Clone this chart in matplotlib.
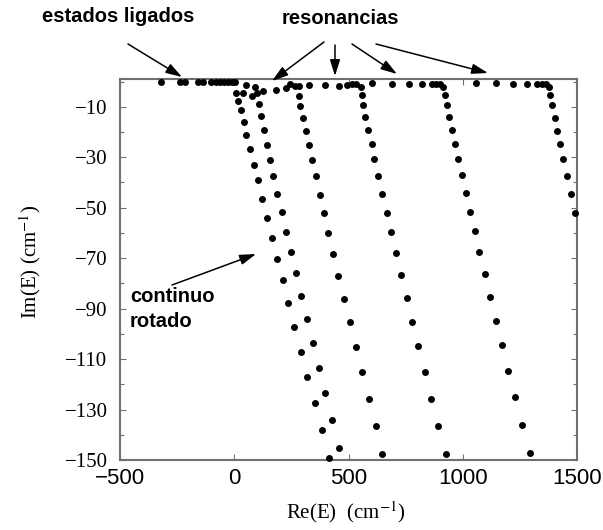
import matplotlib
matplotlib.use("Agg")
import matplotlib.pyplot as plt
from matplotlib.ticker import FixedLocator, FixedFormatter

# ---- data (Re(E), Im(E) in cm^-1) ----
bound_re = [-320, -237, -215, -159, -135, -102, -80, -62, -45, -27, -12, 3]
bound_im = [0, 0, 0, 0, 0, 0, 0, 0, 0, 0, 0, 0]

top_re = [39.6, 53.6, 75.5, 90.8, 98.3, 126.7, 183.6, 224.3, 244.0, 267.2,
          325.8, 398.9, 458.4, 494.8, 516.6, 535.0,
          603.7, 690.4, 762.6, 822.5, 864.6, 885.1, 901.8,
          1058.0, 1147.7, 1219.1, 1280.3, 1322.8, 1345.5, 1363.0]
top_im = [-4.7, -1.5, -5.9, -2.0, -4.7, -3.6, -3.4, -2.7, -0.8, -1.6,
          -1.3, -1.5, -1.8, -1.4, -1.0, -0.8,
          -0.5, -0.8, -0.8, -0.8, -0.8, -0.8, -0.9,
          -0.5, -0.5, -0.8, -0.8, -0.8, -0.8, -0.9]

c1_re = [9.0, 16.4, 28.7, 41.4, 52.7, 68.9, 85.1, 101.8, 122.8, 142.0, 163.9,
         185.8, 212.0, 236.5, 262.8, 290.8, 319.7, 352.1, 384.0, 416.0]
c1_im = [-4.4, -7.8, -11.3, -15.9, -21.2, -26.7, -33.1, -39.2, -46.7, -54.2,
         -61.9, -70.2, -78.8, -87.9, -97.2, -107.1, -117.1, -127.5, -138.2, -149.3]

c2_re = [107.0, 118.4, 128.9, 142.0, 156.5, 170.9, 188.4, 207.7, 226.5, 247.1,
         270.2, 293.4, 318.4, 344.6, 370.9, 398.5, 427.8, 459.7]
c2_im = [-9.1, -13.5, -19.2, -25.2, -31.1, -37.4, -44.5, -51.8, -59.5, -67.4,
         -76.0, -84.9, -94.0, -103.5, -113.4, -123.6, -134.2, -145.1]

c3_re = [281.2, 283.4, 289.1, 302.2, 314.0, 327.1, 341.6, 356.9, 375.3, 392.8,
         411.6, 433.5, 455.4, 480.3, 506.6, 531.5, 559.1, 588.4, 619.0, 647.9]
c3_im = [-1.6, -5.7, -9.7, -14.6, -19.6, -25.2, -31.1, -37.4, -44.9, -52.2,
         -60.2, -68.5, -77.1, -86.1, -95.4, -105.2, -115.3, -125.8, -136.7, -147.8]

c4_re = [553.4, 557.8, 562.2, 572.2, 586.7, 601.5, 612.9, 630.4, 647.9, 667.2,
         686.0, 707.9, 729.8, 754.7, 779.2, 805.5, 833.5, 862.4, 893.0, 925.4]
c4_im = [-2.1, -5.3, -9.3, -13.9, -19.2, -24.9, -30.8, -37.4, -44.6, -52.0,
         -59.8, -68.0, -76.6, -85.7, -95.2, -104.9, -115.1, -125.7, -136.5, -147.6]

c5_re = [913.6, 922.3, 929.8, 939.8, 953.0, 966.1, 977.9, 995.4, 1014.2, 1031.7,
         1052.3, 1072.4, 1097.4, 1120.6, 1145.5, 1173.1, 1199.4, 1230.0, 1260.6, 1293.0]
c5_im = [-2.0, -5.3, -9.3, -14.2, -19.2, -24.9, -30.8, -37.0, -44.2, -51.6,
         -59.4, -67.7, -76.3, -85.3, -94.8, -104.4, -114.6, -125.2, -136.0, -147.2]

c6_re = [1375.3, 1383.2, 1390.6, 1403.7, 1412.5, 1425.6, 1440.1, 1454.9, 1472.4, 1489.9]
c6_im = [-2.2, -5.5, -9.4, -14.3, -19.5, -24.9, -30.8, -37.4, -44.6, -52.0]

x_ticks = [-500, 0, 500, 1000, 1500]
x_ticklabels = ["\u2212500", "0", "500", "1000", "1500"]
y_ticks = [-150, -130, -110, -90, -70, -50, -30, -10]
y_ticklabels = ["\u2212150", "\u2212130", "\u2212110", "\u221290", "\u221270", "\u221250", "\u221230", "\u221210"]
y_minor = [-140, -120, -100, -80, -60, -40, -20, 0]

# ---- figure ----
W, H = 603, 530
fig = plt.figure(figsize=(W / 100, H / 100), dpi=100)
ax = fig.add_axes([120 / W, 1 - 460 / H, 457 / W, 381 / H])

series = [(bound_re, bound_im), (top_re, top_im), (c1_re, c1_im), (c2_re, c2_im),
          (c3_re, c3_im), (c4_re, c4_im), (c5_re, c5_im), (c6_re, c6_im)]
for xs, ys in series:
    ax.plot(xs, ys, 'o', color='black', markersize=5.0, markeredgewidth=0,
            linestyle='none', clip_on=False, zorder=3)

ax.set_xlim(-500, 1500)
ax.set_ylim(-150, 1)

spine_col = '#707070'
for s in ax.spines.values():
    s.set_color(spine_col)
    s.set_linewidth(1.5)

ax.xaxis.set_major_locator(FixedLocator(x_ticks))
ax.xaxis.set_major_formatter(FixedFormatter(x_ticklabels))
ax.yaxis.set_major_locator(FixedLocator(y_ticks))
ax.yaxis.set_major_formatter(FixedFormatter(y_ticklabels))
ax.yaxis.set_minor_locator(FixedLocator(y_minor))

ax.tick_params(which='both', direction='in', top=True, right=True,
               color=spine_col, width=0.8)
ax.tick_params(which='major', length=4)
ax.tick_params(which='minor', length=3)
ax.tick_params(axis='x', pad=6)
ax.tick_params(axis='y', pad=9)

for lab in ax.get_xticklabels():
    lab.set_fontfamily('Liberation Sans')
    lab.set_fontsize(16)
for lab in ax.get_yticklabels():
    lab.set_fontfamily('Liberation Serif')
    lab.set_fontsize(15)

fig.text(346 / W, 1 - 512 / H, r"Re(E)  (cm$^{-1}$)", ha='center', va='center',
         fontsize=15, family='Liberation Serif', math_fontfamily='stix')
fig.text(30 / W, 1 - 262 / H, r"Im(E) (cm$^{-1}$)", ha='center', va='center',
         rotation=90, fontsize=15, family='Liberation Serif', math_fontfamily='stix')

ann_font = dict(family=['Liberation Sans', 'DejaVu Sans'],
                fontweight='bold', fontsize=14.5)

def fp(x, y):
    return (x / W, 1 - y / H)

fig.text(*fp(42, 17), "estados ligados", ha='left', va='center', **ann_font)
fig.text(*fp(340, 18), "resonancias", ha='center', va='center', **ann_font)
fig.text(*fp(130, 309), "continuo\nrotado", ha='left', va='center',
         linespacing=1.45, **ann_font)

arrow = dict(arrowstyle='-|>,head_length=0.7,head_width=0.22', color='black',
             lw=1.1, mutation_scale=14, shrinkA=0, shrinkB=0)
arrows = [((128, 44), (182, 77)),
          ((324, 42), (272, 81)),
          ((335, 45), (335, 76)),
          ((352, 44), (397, 74)),
          ((376, 44), (488, 73)),
          ((172, 285), (256, 254))]
for (x0, y0), (x1, y1) in arrows:
    ax.annotate('', xy=fp(x1, y1), xycoords='figure fraction',
                xytext=fp(x0, y0), textcoords='figure fraction',
                arrowprops=arrow, annotation_clip=False)

fig.savefig('out.png', dpi=100)
